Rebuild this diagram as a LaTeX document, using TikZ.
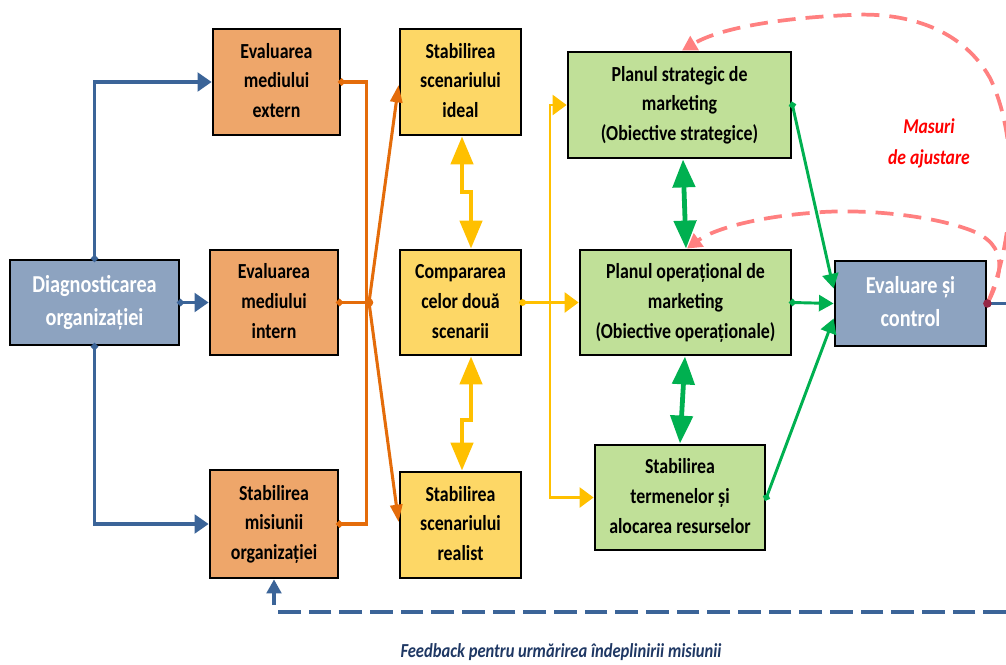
\documentclass[tikz,border=0pt]{standalone}
\usepackage{fontspec}
\setmainfont{Carlito}
\usetikzlibrary{arrows.meta,calc}

\definecolor{blueln}{RGB}{59,100,152}
\definecolor{bluefill}{RGB}{141,163,192}
\definecolor{orfill}{RGB}{238,166,106}
\definecolor{orln}{RGB}{228,108,10}
\definecolor{yefill}{RGB}{253,215,102}
\definecolor{yeln}{RGB}{255,192,0}
\definecolor{grfill}{RGB}{192,224,152}
\definecolor{grln}{RGB}{0,176,80}
\definecolor{redln}{RGB}{255,128,128}
\definecolor{redtxt}{RGB}{255,0,0}
\definecolor{dotred}{RGB}{150,40,70}
\definecolor{fbtxt}{RGB}{31,56,100}

% text block, slightly stretched vertically
\newcommand\tallt[1]{\scalebox{1}[1.2]{\begin{tabular}{@{}c@{}}#1\end{tabular}}}

\begin{document}
\begin{tikzpicture}[x=0.75pt,y=-0.75pt,
  sz/.style 2 args={minimum width=#1*0.75pt, minimum height=#2*0.75pt},
  box/.style={draw=black, line width=2.1pt, inner sep=0pt, align=center},
  darkbox/.style={box, fill=bluefill, text=white, font=\fontsize{15.2}{20.8}\selectfont\bfseries},
  orbox/.style={box, fill=orfill, font=\fontsize{13.4}{18.7}\selectfont\bfseries},
  yebox/.style={box, fill=yefill, font=\fontsize{13.4}{18.7}\selectfont\bfseries},
  grbox/.style={box, fill=grfill, font=\fontsize{13.4}{18.7}\selectfont\bfseries},
  blline/.style={draw=blueln, line width=2.3pt, shorten <=-2.4pt,
    arrows={{Circle[length=5pt]}-{Triangle[length=10.5pt,width=14pt]}}},
  orline/.style={draw=orln, line width=2.3pt,
    arrows={-{Triangle[length=13pt,width=9pt]}}},
  ordots/.style={draw=orln, line width=2.3pt, shorten <=-2.4pt, shorten >=-2.4pt,
    arrows={{Circle[length=5pt]}-{Circle[length=5pt]}}},
  yeline/.style={draw=yeln, line width=2pt,
    arrows={-{Triangle[length=10.5pt,width=15pt]}}},
  yedouble/.style={draw=yeln, line width=3.4pt,
    arrows={{Triangle[length=21pt,width=16.5pt]}-{Triangle[length=21pt,width=16.5pt]}}},
  grdouble/.style={draw=grln, line width=3.6pt,
    arrows={{Triangle[length=21pt,width=16.5pt]}-{Triangle[length=21pt,width=16.5pt]}}},
  grline/.style={draw=grln, line width=2.2pt, shorten <=-2.4pt,
    arrows={{Circle[length=5pt]}-{Triangle[length=11pt,width=12pt]}}},
  adjust/.style={draw=redln, line width=2.8pt, dash pattern=on 13.5pt off 7.5pt,
    arrows={-{Triangle[length=11pt,width=12pt]}}},
  feedback/.style={draw=blueln, line width=2.6pt, dash pattern=on 17pt off 6pt},
]
\useasboundingbox (0,0) rectangle (1006,664);

% ---- boxes ----
\node[darkbox, sz={169}{85}] (diag) at (94.5,302.5) {\tallt{Diagnosticarea\\organizației}};

\node[orbox, sz={127}{106}] (ext) at (276.5,82)  {\tallt{Evaluarea\\mediului\\extern}};
\node[orbox, sz={128}{105}] (int) at (274,302.5) {\tallt{Evaluarea\\mediului\\intern}};
\node[orbox, sz={128}{108}] (mis) at (274,524)   {\tallt{Stabilirea\\misiunii\\organizației}};

\node[yebox, sz={121}{106}] (ideal) at (460.5,82)    {\tallt{Stabilirea\\scenariului\\ideal}};
\node[yebox, sz={121}{105}] (comp)  at (460.5,302.5) {\tallt{Compararea\\celor două\\scenarii}};
\node[yebox, sz={121}{106}] (real)  at (460.5,525)   {\tallt{Stabilirea\\scenariului\\realist}};

\node[grbox, sz={223}{106}] (strat) at (679.5,105)   {\tallt{Planul strategic de\\marketing\\(Obiective strategice)}};
\node[grbox, sz={211}{105}] (oper)  at (685.5,302.5) {\tallt{Planul operațional de\\marketing\\(Obiective operaționale)}};
\node[grbox, sz={170}{105}] (term)  at (680,497.5)   {\tallt{Stabilirea\\termenelor și\\alocarea resurselor}};

\node[darkbox, sz={151}{85}] (eval) at (910.5,303.5) {\tallt{Evaluare și\\control}};

% ---- diagnosis to the three analyses ----
\draw[blline] (diag.north) |- (ext.west);
\draw[blline] (diag.east) -- (int.west);
\draw[blline] (diag.south) |- (mis.west);

% ---- analyses to the scenarios ----
\coordinate (ojoin) at (369,302.5);
\draw[ordots] (ext.east) -- ++(25,0) |- (mis.east);
\draw[draw=orln, line width=2.3pt, shorten <=-2.4pt,
      arrows={{Circle[length=5pt]}-}] (int.east) -- (ojoin);
\fill[orln] (ojoin) circle (3.2pt);
\draw[orline] (ojoin) -- ($(ideal.west)+(0,3)$);
\draw[orline] (ojoin) -- ($(real.west)+(0,-3)$);

% ---- scenario comparison ----
\draw[yedouble] (462,0 |- ideal.south) -- (462,192) -- (471,192) -- (471,0 |- comp.north);
\draw[yedouble] (471,0 |- comp.south) -- (471,420) -- (462,420) -- (462,0 |- real.north);

% ---- scenarios to the plans ----
\coordinate (yjoin) at (550,302.5);
\draw[yeline, shorten <=-2.4pt, arrows={{Circle[length=5pt]}-{Triangle[length=10.5pt,width=15pt]}}]
  (comp.east) -- (oper.west);
\draw[yeline] (yjoin) |- (strat.west);
\draw[yeline] (yjoin) |- (term.west);

% ---- links between the plans ----
\draw[grdouble] (683,0 |- strat.south) -- (686,0 |- oper.north);
\draw[grdouble] (685,0 |- oper.south) -- (680,0 |- term.north);

% ---- plans to evaluation ----
\draw[grline] (strat.east) -- ($(eval.west)+(0,-15)$);
\draw[grline] (oper.east) -- (eval.west);
\draw[grline] (term.east) -- ($(eval.west)+(0,15)$);

% ---- adjustment measures ----
\draw[adjust] (eval.east) .. controls (1015,240) and (1020,140) .. (990,78)
  .. controls (960,25) and (900,12) .. (850,15)
  .. controls (780,18) and (720,28) .. (strat.north -| 682,0);
\draw[adjust] (eval.east) .. controls (1002,275) and (1010,245) .. (970,230)
  .. controls (930,215) and (860,208) .. (810,213)
  .. controls (760,217) and (715,228) .. (oper.north -| 687,0);
\node[text=redtxt, font=\fontsize{13.2}{19}\selectfont\bfseries\itshape] (masuri) at (929,143)
  {\tallt{Masuri\\de ajustare}};

% ---- outgoing line and feedback ----
\coordinate (eout) at (1006,303.5);
\draw[draw=blueln, line width=2.3pt] (eval.east) -- (eout);
\fill[dotred] (eval.east) circle (3.2pt);

\coordinate (fbright) at (1006,612);
\coordinate (fbleft) at (277,612);
\coordinate (fbup) at (274,605);
\draw[feedback] (fbright) -- (fbleft);
\draw[draw=blueln, line width=2.3pt, arrows={-{Triangle[length=10.5pt,width=11pt]}}]
  (fbup) -- (mis.south);
\node[text=fbtxt, font=\fontsize{12.4}{15}\selectfont\bfseries\itshape] (fbtext) at (561,653)
  {\tallt{Feedback pentru urmărirea îndeplinirii misiunii}};
\end{tikzpicture}
\end{document}
